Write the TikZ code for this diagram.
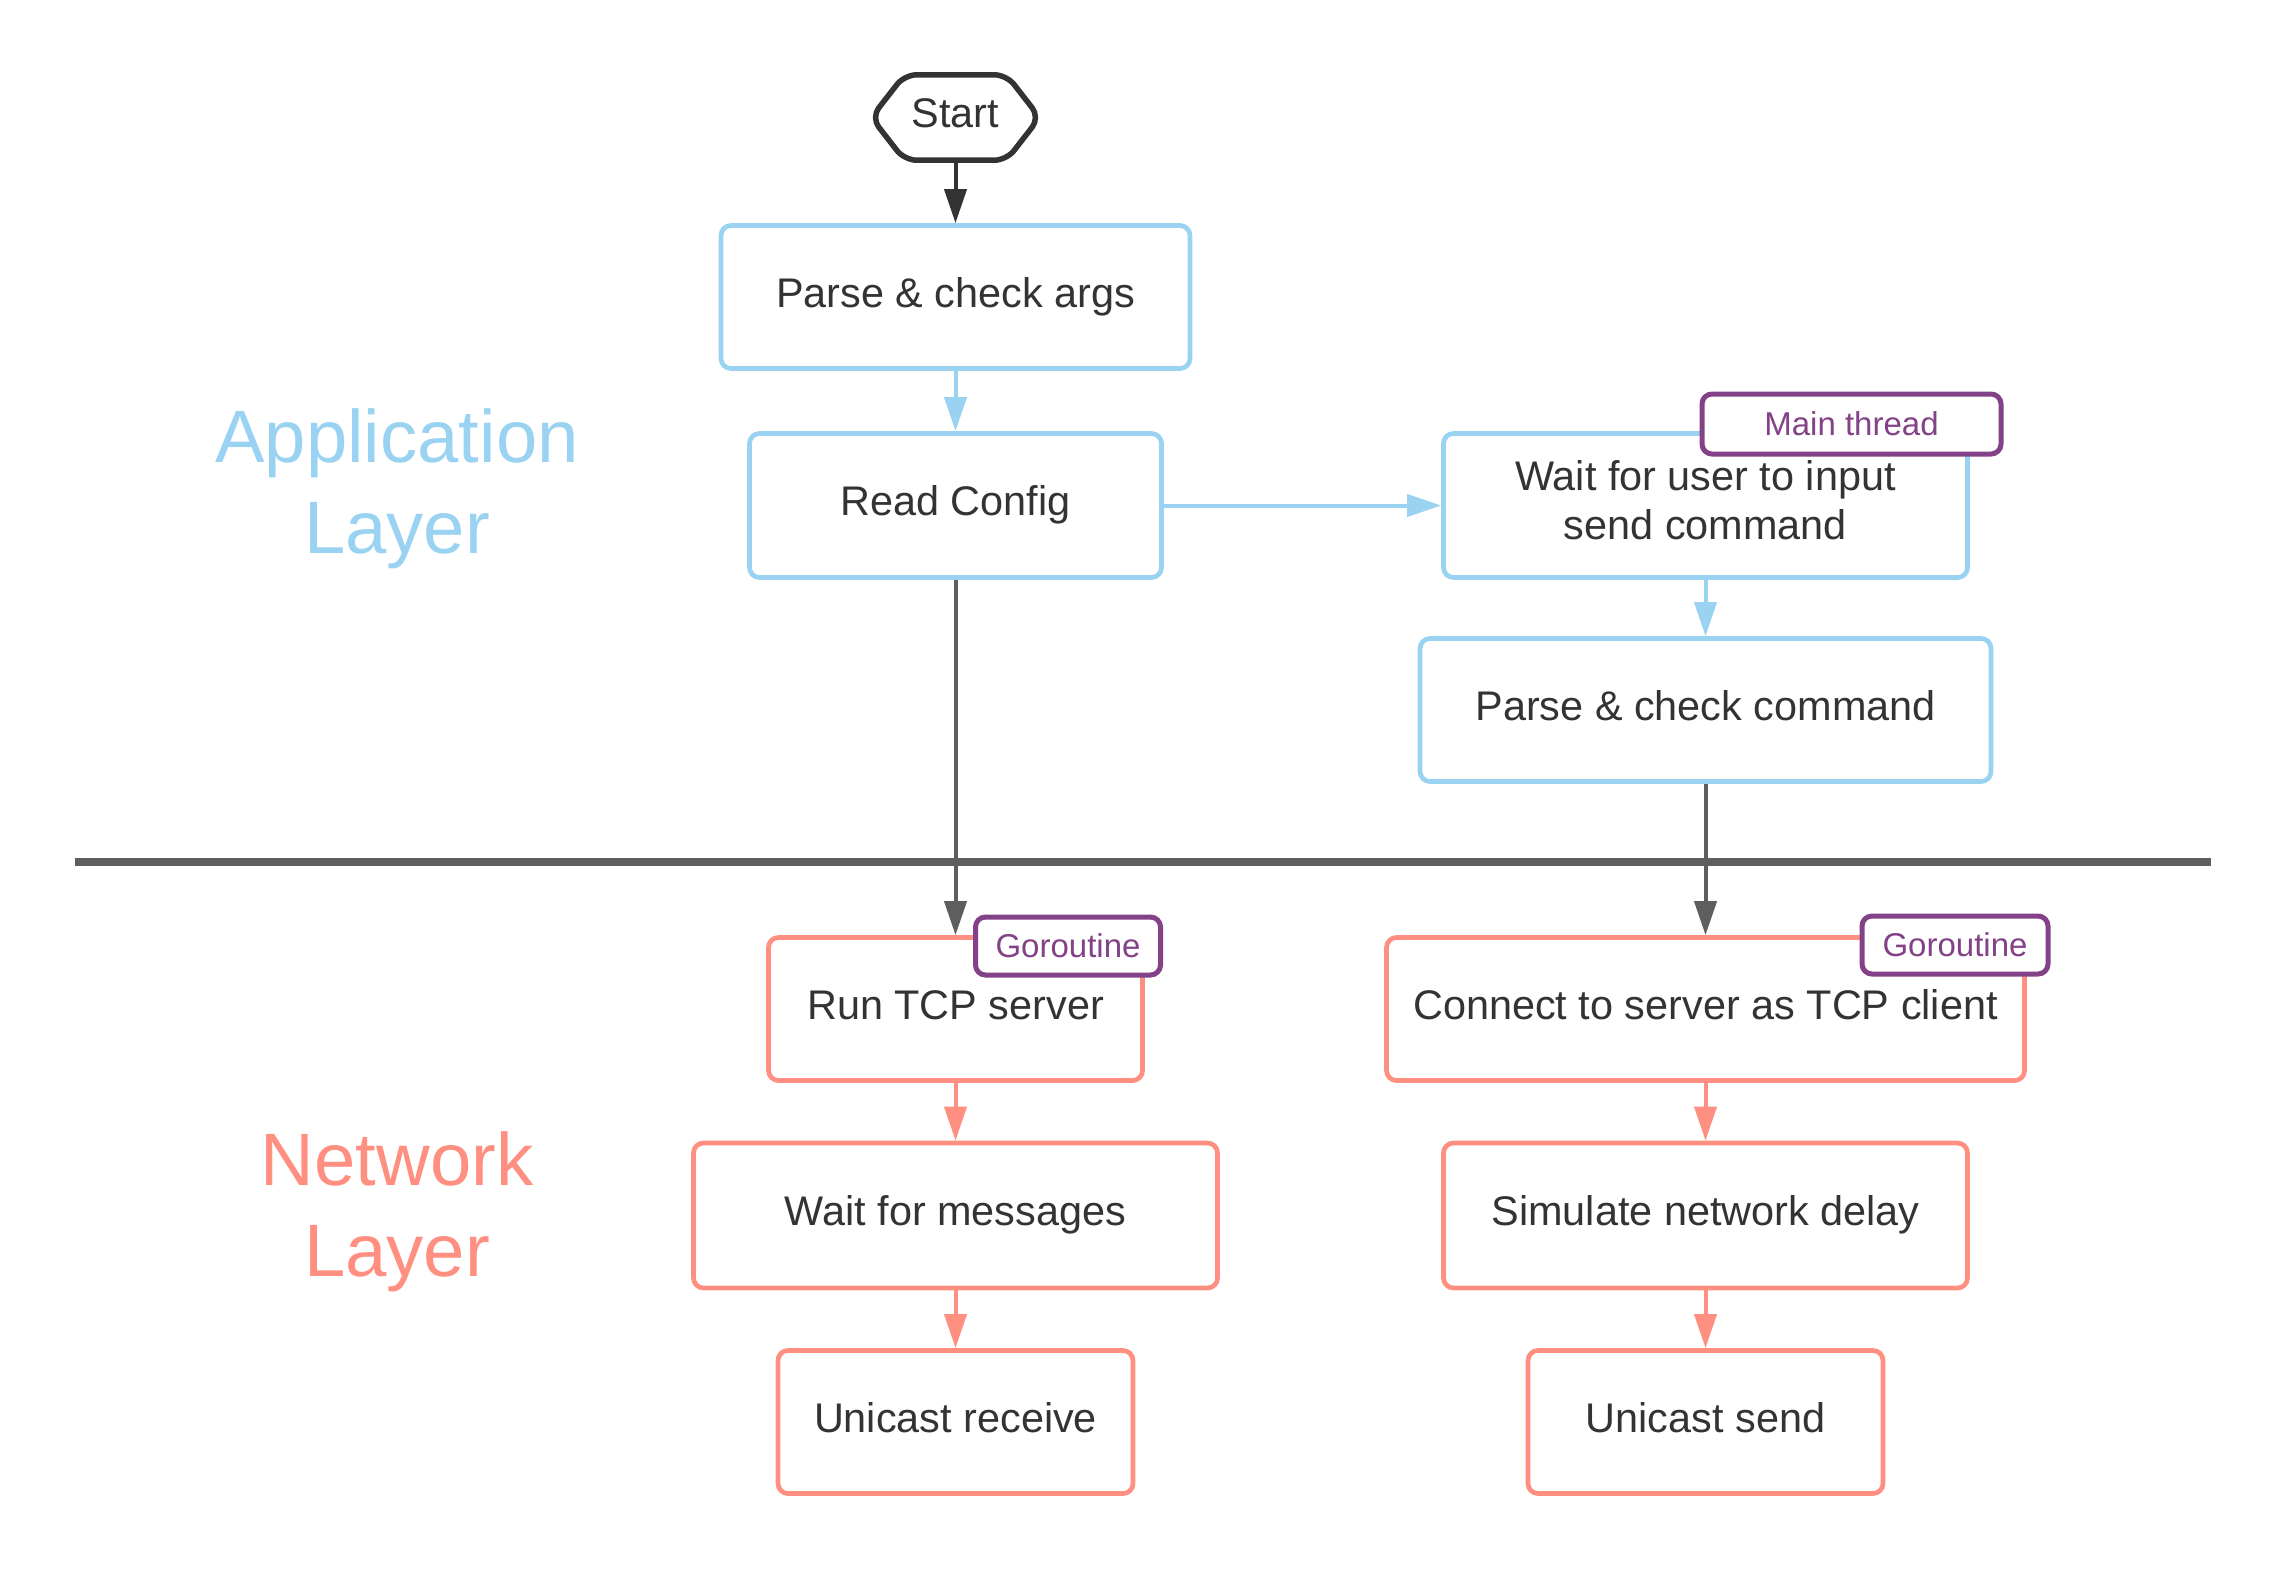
\documentclass[tikz,border=0pt]{standalone}
\usepackage{fontspec}
\setmainfont{Liberation Sans}
\usetikzlibrary{arrows.meta,calc}
\definecolor{appblue}{HTML}{9AD2F2}
\definecolor{netred}{HTML}{FF8F80}
\definecolor{tagpurple}{HTML}{834187}
\definecolor{darkline}{HTML}{5E5E5E}
\definecolor{txt}{HTML}{333333}
\begin{document}
\begin{tikzpicture}[x=1pt,y=-1pt,
  box/.style={rectangle, rounded corners=10pt, line width=4.7pt, fill=white, text=txt, align=center, font=\fontsize{41.4pt}{49pt}\selectfont, inner sep=0pt, text height=30pt, text depth=9.4pt},
  appbox/.style={box, draw=appblue},
  netbox/.style={box, draw=netred},
  tagbox/.style={rectangle, rounded corners=10pt, line width=5pt, draw=tagpurple, fill=white, text=tagpurple, font=\fontsize{33pt}{38pt}\selectfont, inner sep=0pt},
  layer/.style={align=center, font=\fontsize{74.3pt}{90.5pt}\selectfont},
  arr/.style={line width=4pt, -{Triangle[length=34pt,width=22pt]}},
]
\useasboundingbox (0,0) rectangle (2288,1569);

% layer labels
\node[layer, text=appblue] (applabel) at (397,489) {Application\\Layer};
\node[layer, text=netred] (netlabel) at (397,1212) {Network\\Layer};

% separator
\coordinate (sepL) at (75,862);
\coordinate (sepR) at (2211,862);
\draw[line width=8.5pt, darkline] (sepL) -- (sepR);

% start
\node[minimum width=168pt, minimum height=85pt, inner sep=0pt, text=txt, font=\fontsize{41.4pt}{49pt}\selectfont, text height=30pt, text depth=9.4pt] (start) at (955.5,117.5) {Start};
\draw[line width=5.5pt, txt, rounded corners=12pt]
  (start.west) -- ($(start.north)+(-51,0)$) -- ($(start.north)+(51,0)$) -- (start.east)
  -- ($(start.south)+(51,0)$) -- ($(start.south)+(-51,0)$) -- cycle;

% application boxes
\node[appbox, minimum width=469pt, minimum height=143pt] (parse) at (955.5,297) {Parse \& check args};
\node[appbox, minimum width=412pt, minimum height=144pt] (read) at (955.5,505.5) {Read Config};
\node[appbox, minimum width=524pt, minimum height=144pt, text height=78pt] (wait) at (1705.5,505.5) {Wait for user to input\\send command};
\node[appbox, minimum width=571pt, minimum height=143pt] (pcmd) at (1705.5,710) {Parse \& check command};

% network boxes
\node[netbox, minimum width=374pt, minimum height=143pt] (run) at (955.5,1009) {Run TCP server};
\node[netbox, minimum width=638pt, minimum height=143pt] (connect) at (1705.5,1009) {Connect to server as TCP client};
\node[netbox, minimum width=524pt, minimum height=145pt] (waitmsg) at (955.5,1215.5) {Wait for messages};
\node[netbox, minimum width=524pt, minimum height=145pt] (sim) at (1705.5,1215.5) {Simulate network delay};
\node[netbox, minimum width=355pt, minimum height=143pt] (urecv) at (955.5,1422) {Unicast receive};
\node[netbox, minimum width=355pt, minimum height=143pt] (usend) at (1705.5,1422) {Unicast send};

% tags
\node[tagbox, minimum width=299pt, minimum height=60pt] (maintag) at (1851.5,424) {Main thread};
\node[tagbox, minimum width=185pt, minimum height=58pt] (gtag1) at (1068,946) {Goroutine};
\node[tagbox, minimum width=186pt, minimum height=58pt] (gtag2) at (1955,945) {Goroutine};

% connectors
\draw[arr, txt] (start.south) -- (parse.north);
\draw[arr, appblue] (parse.south) -- (read.north);
\draw[arr, appblue] (read.east) -- (wait.west);
\draw[arr, appblue] (wait.south) -- (pcmd.north);
\draw[arr, darkline] (read.south) -- (run.north);
\draw[arr, darkline] (pcmd.south) -- (connect.north);
\draw[arr, netred] (run.south) -- (waitmsg.north);
\draw[arr, netred] (waitmsg.south) -- (urecv.north);
\draw[arr, netred] (connect.south) -- (sim.north);
\draw[arr, netred] (sim.south) -- (usend.north);
\end{tikzpicture}
\end{document}
